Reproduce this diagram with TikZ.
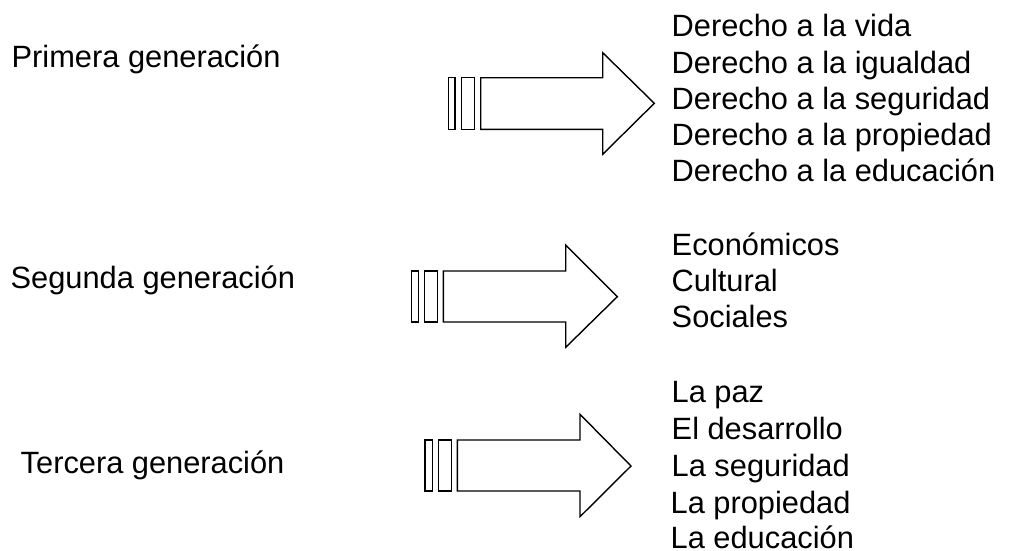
\documentclass[tikz,border=0pt]{standalone}
\usepackage{fontspec}
\setmainfont{Liberation Sans}
\begin{document}
\begin{tikzpicture}[x=1pt,y=-1pt,
  txt/.style={anchor=base west,inner sep=0pt,font=\fontsize{30.8}{36}\selectfont},
  outl/.style={draw=black,line width=1.4pt,fill=white,line join=miter}]
\useasboundingbox[fill=white] (0,0) rectangle (1009,550);
% left labels
\node[txt] (g1) at (11.5,67.3) {Primera generación};
\node[txt] (g2) at (10.5,288.3) {Segunda generación};
\node[txt] (g3) at (20.5,473.3) {Tercera generación};
% arrow 1
\draw[outl] (448.3,77.7) rectangle (455,129.3);
\draw[outl] (461.3,77.7) rectangle (474.7,129.3);
\draw[outl] (480.7,77.7) -- (602.7,77.7) -- (602.7,52.7) -- (654.3,103.3) -- (602.7,154.3) -- (602.7,129.3) -- (480.7,129.3) -- cycle;
% arrow 2
\draw[outl] (411.7,271) rectangle (418.3,322);
\draw[outl] (424.3,271) rectangle (437.3,322);
\draw[outl] (443.3,271) -- (565.7,271) -- (565.7,245) -- (617.3,296.7) -- (565.7,347.3) -- (565.7,322) -- (443.3,322) -- cycle;
% arrow 3
\draw[outl] (425,440) rectangle (432.3,491);
\draw[outl] (438.3,440) rectangle (451.7,491);
\draw[outl] (457.3,440) -- (580,440) -- (580,414.3) -- (631,466) -- (580,516.7) -- (580,491) -- (457.3,491) -- cycle;
% right texts group 1
\node[txt] (a1) at (671.5,36.7) {Derecho a la vida};
\node[txt] (a2) at (671.5,73) {Derecho a la igualdad};
\node[txt] (a3) at (671.5,109.2) {Derecho a la seguridad};
\node[txt] (a4) at (671.5,145.5) {Derecho a la propiedad};
\node[txt] (a5) at (671.5,181.7) {Derecho a la educación};
% group 2
\node[txt] (b1) at (671.5,255) {Económicos};
\node[txt] (b2) at (671.5,291.3) {Cultural};
\node[txt] (b3) at (671.5,327) {Sociales};
% group 3
\node[txt] (c1) at (671.5,402) {La paz};
\node[txt] (c2) at (671.5,439) {El desarrollo};
\node[txt] (c3) at (671.5,476) {La seguridad};
\node[txt] (c4) at (670.5,513) {La propiedad};
\node[txt] (c5) at (670.5,548.5) {La educación};
\end{tikzpicture}
\end{document}
